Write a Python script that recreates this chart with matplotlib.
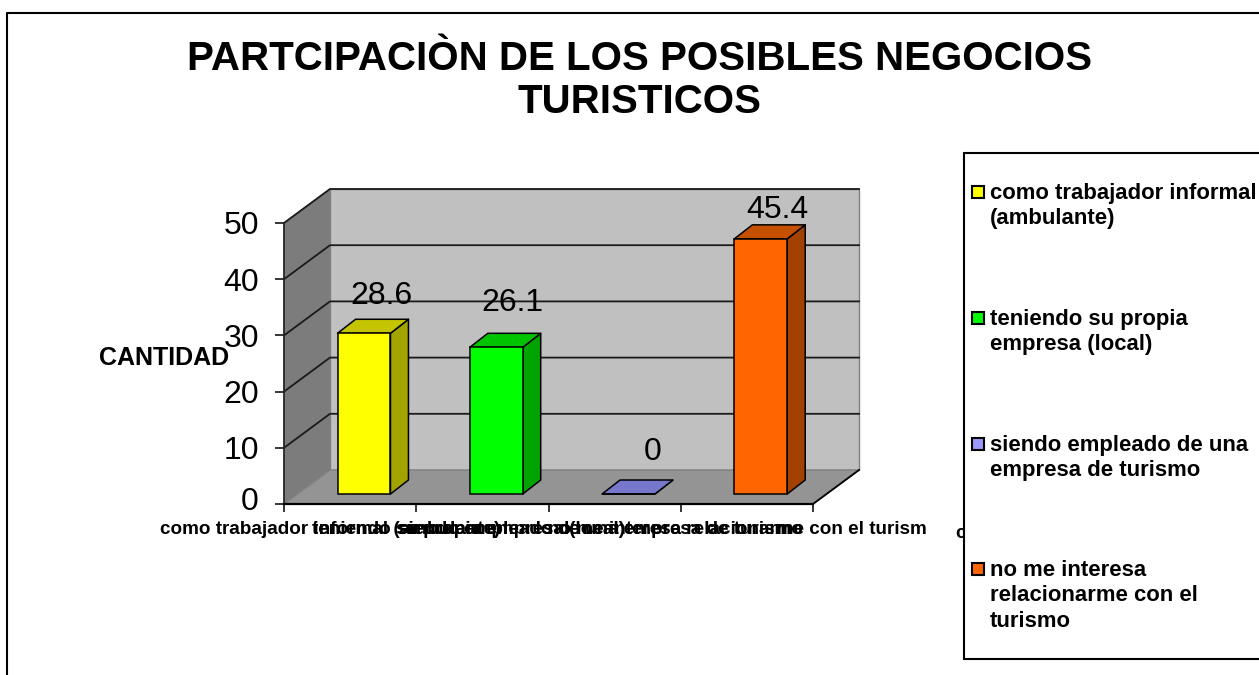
import matplotlib
matplotlib.use("Agg")
import matplotlib.pyplot as plt
from matplotlib.patches import Polygon, Rectangle
from matplotlib.lines import Line2D
from matplotlib.transforms import ScaledTranslation

plt.rcParams['font.family'] = ['Liberation Sans', 'DejaVu Sans']

title = "PARTCIPACIÒN DE LOS POSIBLES NEGOCIOS\nTURISTICOS"
ylabel = "CANTIDAD"
values = [28.6, 26.1, 0, 45.4]
value_labels = ["28.6", "26.1", "0", "45.4"]
axis_labels = ["como trabajador informal (ambulante)",
               "teniendo su propia empresa (local)",
               "siendo empleado de una empresa de turismo",
               "no me interesa relacionarme con el turism"]
legend_labels = ["como trabajador informal\n(ambulante)",
                 "teniendo su propia\nempresa (local)",
                 "siendo empleado de una\nempresa de turismo",
                 "no me interesa\nrelacionarme con el\nturismo"]
yticks = [0, 10, 20, 30, 40, 50]
front = ["#FFFF00", "#00FF00", "#7777CC", "#FF6600"]
top = ["#C4C400", "#00C400", "#7777CC", "#C45000"]
side = ["#A3A300", "#00A300", "#7777CC", "#A34200"]
legend_fill = ["#FFFF00", "#00FF00", "#9999FF", "#FF6600"]

W, H = 1259, 675
fig = plt.figure(figsize=(W / 100, H / 100), dpi=100, facecolor="white")
L, R, T0, B0 = 284, 813, 223, 504
ax = fig.add_axes([L / W, 1 - B0 / H, (R - L) / W, (B0 - T0) / H])
ax.set_xlim(0, 4)
ax.set_ylim(0, 50)
ax.patch.set_visible(False)
px = 4 / (R - L)
py = 50 / (B0 - T0)
DX, DY = 46 * px, 34 * py

ax.add_patch(Polygon([(DX, DY), (4 + DX, DY), (4 + DX, 50 + DY), (DX, 50 + DY)], fc="#C0C0C0", ec="#808080", lw=1, zorder=1, clip_on=False))
ax.add_patch(Polygon([(0, 0), (DX, DY), (DX, 50 + DY), (0, 50)], fc="#7C7C7C", ec="#808080", lw=1, zorder=1, clip_on=False))
ax.add_patch(Polygon([(0, 0), (4, 0), (4 + DX, DY), (DX, DY)], fc="#949494", ec="#808080", lw=1, zorder=1, clip_on=False))

for v in yticks[1:]:
    ax.plot([0, DX, 4 + DX], [v, v + DY, v + DY], color="#1a1a1a", lw=1.3, zorder=2, clip_on=False)
ax.plot([4, 4 + DX], [0, DY], color="black", lw=1.3, zorder=2, clip_on=False)

BW, X0, B = 0.4, 0.405, 10 * py
dx, dy = 18 * px, 14 * py
for i, v in enumerate(values):
    x0, x1 = i + X0, i + X0 + BW
    y0, y1 = B, B + v
    kw = dict(ec="black", lw=1.1, zorder=3, joinstyle="round", clip_on=False)
    ax.add_patch(Polygon([(x1, y0), (x1 + dx, y0 + dy), (x1 + dx, y1 + dy), (x1, y1)], fc=side[i], **kw))
    ax.add_patch(Polygon([(x0, y1), (x1, y1), (x1 + dx, y1 + dy), (x0 + dx, y1 + dy)], fc=top[i], **kw))
    ax.bar(x0, v, BW, y0, align="edge", color=front[i], edgecolor="black", lw=1.1, zorder=3, clip_on=False)

offs = [(-1, 23), (-2, 30), (6, 28), (-1, 15)]
for i, v in enumerate(values):
    ax.annotate(value_labels[i], (i + X0 + BW / 2 + dx, B + v + dy), xytext=(offs[i][0] * .72, offs[i][1] * .72),
                textcoords="offset points", ha="center", va="center", fontsize=23, zorder=4, color="black")

for s in ("top", "right"):
    ax.spines[s].set_visible(False)
ax.spines["left"].set(lw=1.2, color="#222222", zorder=5)
ax.spines["bottom"].set(lw=1.6, color="black", zorder=5)
ax.set_xticks(range(5))
ax.set_xticklabels([])
ax.set_yticks(yticks)
ax.set_yticklabels(yticks, fontsize=23)
ax.tick_params(axis="y", length=6.5, width=1.1, pad=11.5)
ax.tick_params(axis="x", length=6, width=1.1)
zero = ax.get_yticklabels()[0]
zero.set_transform(zero.get_transform() + ScaledTranslation(0, 6 / 100, fig.dpi_scale_trans))

label_left = [160, 312, 398, 548]
for lab, lx in zip(axis_labels, label_left):
    fig.text(lx / W, 1 - 529 / H, lab, ha="left", va="center", fontsize=13.6, fontweight="bold")
fig.text(955 / W, 1 - 534 / H, "c", ha="left", va="center", fontsize=13.6, fontweight="bold")

fig.text(99 / W, 1 - 358 / H, ylabel, ha="left", va="center", fontsize=18, fontweight="bold")
fig.text(639.5 / W, 1 - 80.5 / H, title, ha="center", va="center", fontsize=29, fontweight="bold", linespacing=1.18)

# outer frame of the chart
fig.add_artist(Line2D([7 / W, 7 / W, 1], [0, 1 - 12.5 / H, 1 - 12.5 / H], color="black", lw=1.5))

# legend box
fig.add_artist(Rectangle((964 / W, 1 - 659 / H), (W + 10 - 964) / W, (659 - 153) / H, fc="white", ec="black", lw=1.5,
                         transform=fig.transFigure, zorder=6))
leg_y = [192, 318, 444, 569]
for lab, c, y in zip(legend_labels, legend_fill, leg_y):
    fig.add_artist(Rectangle((972 / W, 1 - (y + 6) / H), 12 / W, 12 / H, fc=c, ec="black", lw=1.5,
                             transform=fig.transFigure, zorder=7))
    fig.text(990 / W, 1 - (y - 9) / H, lab, ha="left", va="top", fontsize=15.9, fontweight="bold", linespacing=1.27, zorder=7)

fig.savefig("out.png", dpi=100, facecolor="white")
